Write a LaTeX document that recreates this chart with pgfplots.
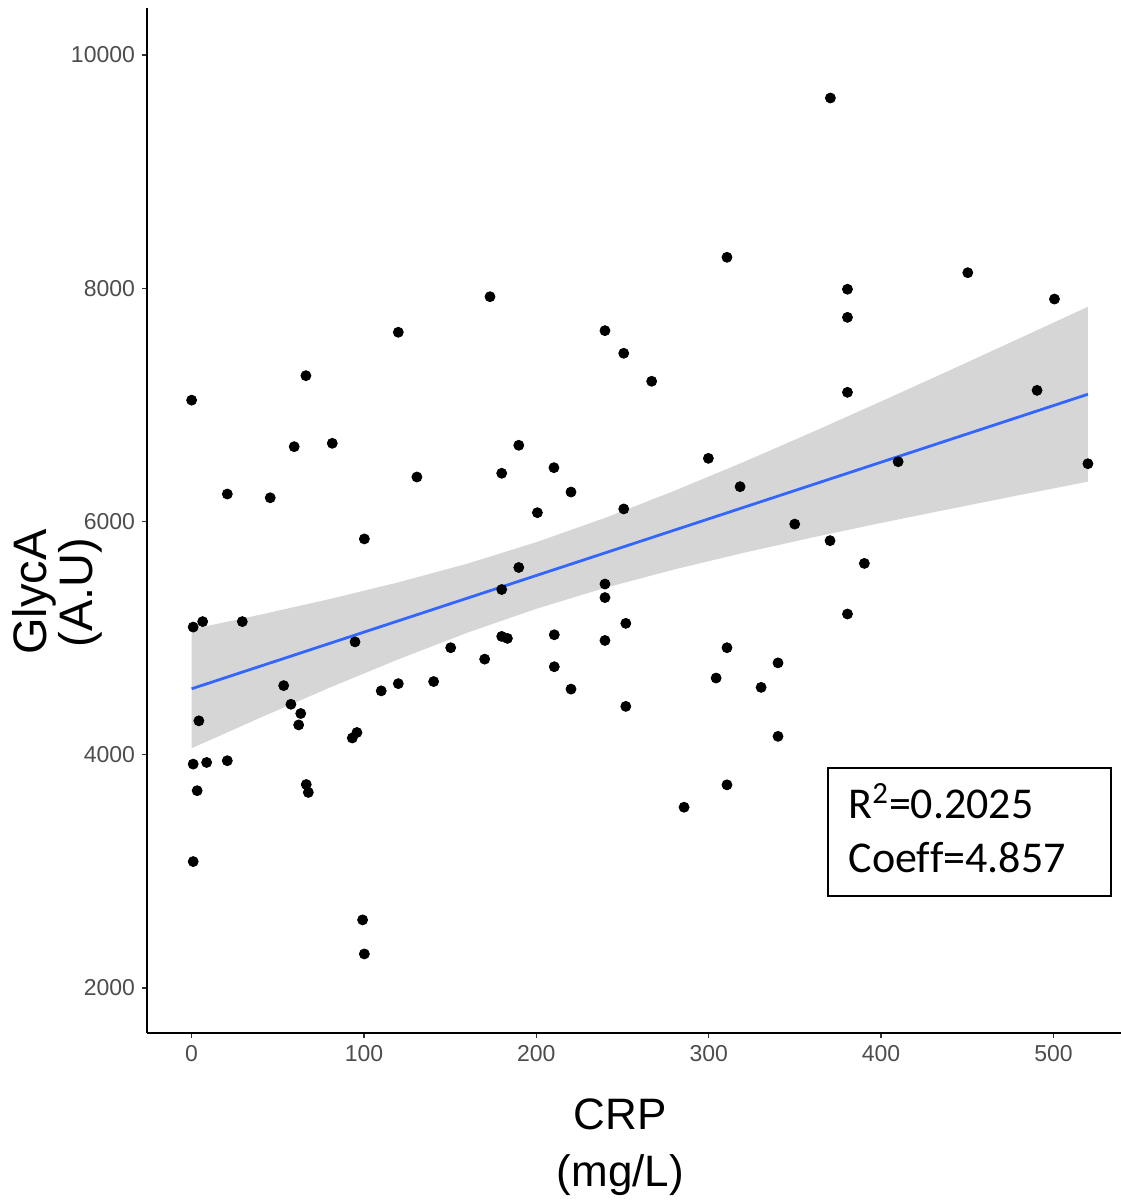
\documentclass[border=0pt]{standalone}
\usepackage{fontspec}
\setmainfont{Liberation Sans}
\newfontfamily\boxfont{Carlito}
\usepackage{pgfplots}
\pgfplotsset{compat=1.18}
\definecolor{tickgray}{RGB}{77,77,77}
\definecolor{fitblue}{RGB}{51,102,255}
\definecolor{bandgray}{RGB}{153,153,153}

\begin{document}
\begin{tikzpicture}
\begin{axis}[
  scale only axis, width=487pt, height=512.5pt,
  xmin=-25.9, xmax=539.2, ymin=1613, ymax=10403,
  axis lines=left,
  axis line style={-, line width=0.9pt, black},
  xtick={0,100,...,500}, ytick={2000,4000,...,10000},
  tick align=outside, major tick length=2.5pt,
  tick style={line width=0.7pt, color=black!80},
  scaled y ticks=false,
  /pgf/number format/1000 sep={},
  /pgf/number format/assume math mode=true,
  ticklabel style={font=\fontsize{11.5}{13}\selectfont, text=tickgray},
  xlabel={CRP\\(mg/L)}, ylabel={GlycA\\(A.U)},
  xlabel style={font=\fontsize{22}{28.5}\selectfont, align=center,
    at={(axis description cs:0.486,-0.111)}, anchor=center},
  ylabel style={font=\fontsize{23.5}{23}\selectfont, align=center,
    at={(axis description cs:-0.0925,0.43)}, anchor=center},
]
% observations
\addplot[only marks, mark=*, mark size=2.5pt, mark options={draw=none, fill=black}] table {
x y
0 7040
0.9 5094
6.4 5141
29.4 5141
4.2 4290
0.9 3919
8.7 3933
20.7 3948
3.2 3691
0.9 3083
20.7 6235
45.6 6203
59.5 6641
66.3 7250
81.6 6670
53.4 4592
57.6 4432
63.3 4353
62.1 4255
66.5 3744
67.7 3676
100.2 5850
94.8 4967
93.2 4143
95.9 4190
99.2 2583
100.2 2291
110 4547
119.9 4609
119.9 7622
130.7 6381
140.4 4627
150.3 4917
170 4819
173.1 7927
179.9 6413
179.9 5416
179.9 5014
183.2 4997
189.8 6653
189.8 5605
200.6 6075
210.2 6461
220.1 6252
210.4 5028
210.4 4754
220.1 4562
239.8 7636
250.7 7442
266.9 7202
239.8 5463
239.8 5347
239.8 4979
250.7 6107
251.9 5126
251.9 4414
285.7 3549
299.8 6541
304.3 4657
310.6 4917
310.6 8265
310.6 3741
318.2 6298
330.4 4577
340.2 4787
340.2 4157
349.9 5977
370.6 9631
370.4 5835
380.5 7991
380.5 7750
380.5 7107
380.5 5206
390.3 5640
409.9 6512
450.3 8133
490.5 7124
500.6 7907
520 6495
};
% confidence band
\addplot[draw=none, fill=bandgray, fill opacity=0.4] coordinates {
(0,5075) (40,5201) (80,5334) (120,5478) (160,5638) (200,5822) (240,6031)
(280,6262) (320,6508) (360,6765) (400,7029) (440,7297) (480,7568) (520,7841)
(520,6341) (480,6225) (440,6107) (400,5987) (360,5862) (320,5730) (280,5588)
(240,5431) (200,5251) (160,5046) (120,4818) (80,4574) (40,4318) (0,4055)
};
% fitted line
\addplot[fitblue, line width=1.4pt] coordinates {(0,4565) (520,7090.6)};
\draw[line width=1.1pt] (axis cs:369.3,3885) rectangle (axis cs:533.5,2788);
\node[anchor=base west, inner sep=0pt, font=\boxfont\fontsize{22}{26}\selectfont] at (axis cs:380.9,3452) {R\textsuperscript{2}=0.2025};
\node[anchor=base west, inner sep=0pt, font=\boxfont\fontsize{22}{26}\selectfont] at (axis cs:380.9,2988) {Coef\kern0.01ptf=4.857};
\coordinate (bl) at (rel axis cs:0,0);
\coordinate (tr) at (rel axis cs:1,1);
\end{axis}
\pgfresetboundingbox
\path ([shift={(-73.5pt,-84.5pt)}]bl) rectangle ([shift={(0pt,4pt)}]tr);
\end{tikzpicture}
\end{document}
